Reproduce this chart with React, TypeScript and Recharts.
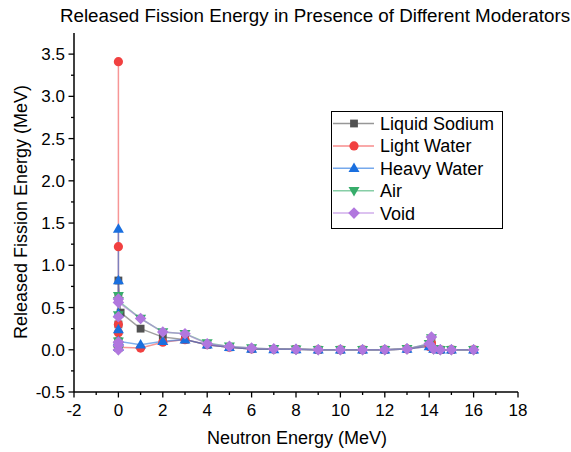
import React from "react";
import { LineChart, Line, XAxis, YAxis, Legend } from "recharts";

// neutron energies (MeV); the first six are thermal / epithermal points that sit at ~0
const energies = [0, 0, 0, 0, 0, 0, 1, 2, 3, 4, 5, 6, 7, 8, 9, 10, 11, 12, 13, 14, 14.1, 14.2, 14.5, 15, 16];
const sodiumEnergies = [0, 0, 0, 0, 0, 0.1, 1, 2, 3, 4, 5, 6, 7, 8, 9, 10, 11, 12, 13, 14, 14.1, 14.2, 14.5, 15, 16];

// released fission energy (MeV)
const liquidSodium = [0.02, 0.1, 0.3, 0.62, 0.82, 0.44, 0.25, 0.15, 0.12, 0.06, 0.03, 0.01, 0.01, 0.005, 0, 0, 0, 0, 0.01, 0.06, 0.1, 0.01, 0, 0, 0];
const lightWater = [3.41, 1.22, 0.3, 0.2, 0.08, 0.03, 0.02, 0.09, 0.12, 0.06, 0.03, 0.01, 0.005, 0.005, 0, 0, 0, 0, 0.01, 0.04, 0.08, 0.01, 0, 0, 0];
const heavyWater = [1.43, 0.82, 0.43, 0.24, 0.03, 0.1, 0.06, 0.1, 0.12, 0.06, 0.03, 0.01, 0.005, 0.005, 0, 0, 0, 0, 0.01, 0.04, 0.06, 0.01, 0, 0, 0];
const air = [0, 0.05, 0.1, 0.41, 0.64, 0.58, 0.37, 0.21, 0.19, 0.08, 0.04, 0.02, 0.01, 0.005, 0, 0, 0, 0, 0.01, 0.07, 0.14, 0.01, 0, 0, 0];
const voidCase = [0, 0.05, 0.09, 0.39, 0.6, 0.56, 0.37, 0.21, 0.19, 0.07, 0.04, 0.02, 0.01, 0.005, 0, 0, 0, 0, 0.01, 0.07, 0.15, 0.01, 0, 0, 0];

const xTicks = [-2, -1, 0, 1, 2, 3, 4, 5, 6, 7, 8, 9, 10, 11, 12, 13, 14, 15, 16, 17, 18];
const yTicks = [-0.5, -0.25, 0, 0.25, 0.5, 0.75, 1, 1.25, 1.5, 1.75, 2, 2.25, 2.5, 2.75, 3, 3.25, 3.5];

const zip = (xs: number[], ys: number[]) => xs.map((x, i) => ({ x, y: ys[i] }));

const series = [
  { name: "Liquid Sodium", color: "#515151", shape: "square", data: zip(sodiumEnergies, liquidSodium) },
  { name: "Light Water", color: "#F14040", shape: "circle", data: zip(energies, lightWater) },
  { name: "Heavy Water", color: "#1A6FDF", shape: "triangle", data: zip(energies, heavyWater) },
  { name: "Air", color: "#37AD6B", shape: "down", data: zip(energies, air) },
  { name: "Void", color: "#B177DE", shape: "diamond", data: zip(energies, voidCase) },
];

const FONT = "'Liberation Sans', Arial, sans-serif";

function Marker({ shape, cx, cy, color }: any) {
  if (cx == null || cy == null) return null;
  if (shape === "square") return <rect x={cx - 3.9} y={cy - 3.9} width={7.8} height={7.8} fill={color} />;
  if (shape === "circle") return <circle cx={cx} cy={cy} r={4.6} fill={color} />;
  if (shape === "triangle")
    return <polygon points={`${cx},${cy - 5.8} ${cx + 5.5},${cy + 3.8} ${cx - 5.5},${cy + 3.8}`} fill={color} />;
  if (shape === "down")
    return <polygon points={`${cx},${cy + 5.8} ${cx + 5.5},${cy - 3.8} ${cx - 5.5},${cy - 3.8}`} fill={color} />;
  return <polygon points={`${cx},${cy - 5.8} ${cx + 5.8},${cy} ${cx},${cy + 5.8} ${cx - 5.8},${cy}`} fill={color} />;
}

const XTick = (p: any) => {
  const v = p.payload.value;
  const major = v % 2 === 0;
  return (
    <g>
      <line x1={p.x} x2={p.x} y1={p.y} y2={p.y + (major ? 5.5 : 3)} stroke="#000" strokeWidth={1.3} />
      {major && (
        <text x={p.x} y={p.y + 24} textAnchor="middle" fontSize={17} fontFamily={FONT} fill="#000">
          {v}
        </text>
      )}
    </g>
  );
};

const YTick = (p: any) => {
  const v = p.payload.value;
  const major = Math.abs((v * 2) % 1) < 1e-9;
  return (
    <g>
      <line x1={p.x} x2={p.x - (major ? 5.5 : 3)} y1={p.y} y2={p.y} stroke="#000" strokeWidth={1.3} />
      {major && (
        <text x={p.x - 9} y={p.y + 6} textAnchor="end" fontSize={17} fontFamily={FONT} fill="#000">
          {v.toFixed(1)}
        </text>
      )}
    </g>
  );
};

const LegendBox = () => (
  <svg width={172} height={118} style={{ display: "block" }}>
    <rect x={0.5} y={0.5} width={171} height={117} fill="#fff" stroke="#000" strokeWidth={1} />
    {series.map((s, i) => {
      const cy = 12.5 + i * 22.4;
      return (
        <g key={s.name}>
          <line x1={2} x2={43} y1={cy} y2={cy} stroke={s.color} strokeOpacity={0.6} strokeWidth={1.5} />
          <Marker shape={s.shape} cx={23} cy={cy} color={s.color} />
          <text x={49} y={cy + 6.5} fontSize={18} fontFamily={FONT} fill="#000">
            {s.name}
          </text>
        </g>
      );
    })}
  </svg>
);

export default function App() {
  return (
    <div style={{ position: "absolute", left: 0, top: 0, width: 571, height: 452, background: "#fff" }}>
      <LineChart width={571} height={452} margin={{ top: 33, right: 53, left: 14, bottom: 0 }}>
        <text x={315} y={22} textAnchor="middle" fontSize={18.8} fontFamily={FONT} fill="#000">
          Released Fission Energy in Presence of Different Moderators
        </text>
        <text
          x={21}
          y={212}
          transform="rotate(-90 21 212)"
          textAnchor="middle"
          dominantBaseline="central"
          fontSize={18}
          fontFamily={FONT}
          fill="#000"
        >
          Released Fission Energy (MeV)
        </text>
        <text x={297} y={444} textAnchor="middle" fontSize={18} fontFamily={FONT} fill="#000">
          Neutron Energy (MeV)
        </text>
        <XAxis
          type="number"
          dataKey="x"
          domain={[-2, 18]}
          ticks={xTicks}
          interval={0}
          height={60}
          tickSize={0}
          tickMargin={0}
          tickLine={false}
          tick={<XTick />}
          axisLine={{ stroke: "#000", strokeWidth: 1.5 }}
          allowDataOverflow
        />
        <YAxis
          type="number"
          dataKey="y"
          domain={[-0.5, 3.75]}
          ticks={yTicks}
          interval={0}
          width={60}
          tickSize={0}
          tickMargin={0}
          tickLine={false}
          tick={<YTick />}
          axisLine={{ stroke: "#000", strokeWidth: 1.5 }}
          allowDataOverflow
        />
        <Legend
          layout="vertical"
          align="center"
          verticalAlign="middle"
          content={() => <LegendBox />}
          wrapperStyle={{ position: "absolute", left: 331, top: 111, width: 172, height: 118 }}
        />
        {series.map((s) => (
          <Line
            key={s.name}
            data={s.data}
            dataKey="y"
            name={s.name}
            type="linear"
            stroke={s.color}
            strokeOpacity={0.55}
            strokeWidth={1.5}
            isAnimationActive={false}
            activeDot={false}
            dot={(p: any) => <Marker key={`${s.name}-${p.index}`} shape={s.shape} cx={p.cx} cy={p.cy} color={s.color} />}
          />
        ))}
      </LineChart>
    </div>
  );
}
